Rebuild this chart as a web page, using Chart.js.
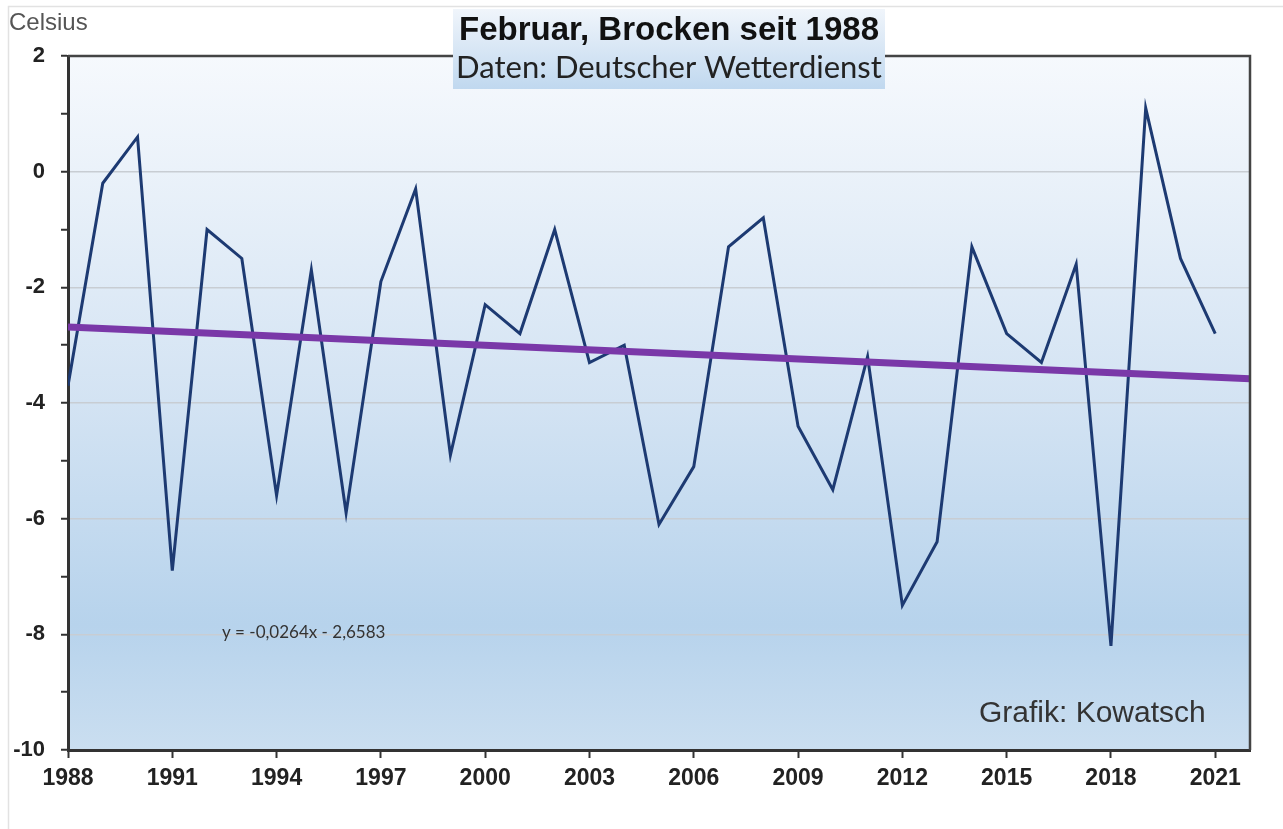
<!DOCTYPE html>
<html>
<head>
<meta charset="utf-8">
<script src="https://cdn.jsdelivr.net/npm/chart.js@4.4.1/dist/chart.umd.min.js"></script>
<style>
  html, body { margin: 0; padding: 0; background: #fff; }
  canvas { display: block; }
</style>
</head>
<body>
<canvas id="grafik" width="1283" height="829"></canvas>
<script>
// Februar-Mitteltemperatur Brocken, Werte
const jahre = [1988, 1989, 1990, 1991, 1992, 1993, 1994, 1995, 1996, 1997, 1998, 1999,
  2000, 2001, 2002, 2003, 2004, 2005, 2006, 2007, 2008, 2009, 2010, 2011,
  2012, 2013, 2014, 2015, 2016, 2017, 2018, 2019, 2020, 2021]
const temperatur = [-3.7, -0.2, 0.6, -6.9, -1.0, -1.5, -5.6, -1.7, -5.9, -1.9, -0.3, -4.9,
  -2.3, -2.8, -1.0, -3.3, -3.0, -6.1, -5.1, -1.3, -0.8, -4.4, -5.5, -3.2,
  -7.5, -6.4, -1.3, -2.8, -3.3, -1.6, -8.2, 1.1, -1.5, -2.8]
const jahrTicks = [1988, 1991, 1994, 1997, 2000, 2003, 2006, 2009, 2012, 2015, 2018, 2021]

// Trendlinie laut Gleichung im Bild (x = 1 fuer 1988)
const trendSteigung = -0.0264
const trendAchse = -2.6583
const trendJahre = [1988, 2022]

const schrift = '"Liberation Sans", Arial, sans-serif'

const punkte = jahre.map((j, i) => ({ x: j, y: temperatur[i] }))
const trendPunkte = trendJahre.map(j => ({ x: j, y: trendSteigung * (j - 1987) + trendAchse }))

const hintergrund = {
  id: 'hintergrund',
  beforeDraw(chart) {
    const { ctx, chartArea: a } = chart
    ctx.save()
    ctx.fillStyle = '#fff'
    ctx.fillRect(0, 0, chart.width, chart.height)
    // duenner Rahmen ums Bild
    ctx.strokeStyle = '#e2e2e2'
    ctx.lineWidth = 1.5
    ctx.beginPath()
    ctx.moveTo(8.5, chart.height)
    ctx.lineTo(8.5, 6.5)
    ctx.lineTo(chart.width, 6.5)
    ctx.stroke()
    const g = ctx.createLinearGradient(0, a.top, 0, a.bottom)
    g.addColorStop(0, '#f6f9fd')
    g.addColorStop(0.5, '#d3e3f3')
    g.addColorStop(0.82, '#b7d3ec')
    g.addColorStop(1, '#cadef0')
    ctx.fillStyle = g
    ctx.fillRect(a.left, a.top, a.right - a.left, a.bottom - a.top)
    ctx.restore()
  },
  afterDraw(chart) {
    const { ctx, chartArea: a } = chart
    ctx.save()
    // oberer und rechter Rand
    ctx.strokeStyle = '#444'
    ctx.lineWidth = 2.5
    ctx.beginPath()
    ctx.moveTo(a.left, a.top)
    ctx.lineTo(a.right, a.top)
    ctx.lineTo(a.right, a.bottom)
    ctx.stroke()

    // Titelkasten
    const tg = ctx.createLinearGradient(0, 9, 0, 89)
    tg.addColorStop(0, '#f0f5fb')
    tg.addColorStop(1, '#c0d8ef')
    ctx.fillStyle = tg
    ctx.fillRect(453, 9, 432, 80)

    ctx.textAlign = 'center'
    ctx.textBaseline = 'alphabetic'
    ctx.fillStyle = '#111'
    ctx.font = 'bold 33px ' + schrift
    ctx.fillText('Februar, Brocken seit 1988', 669, 40)
    ctx.fillStyle = '#222'
    ctx.font = '31px Lato, "Open Sans", sans-serif'
    ctx.fillText('Daten: Deutscher Wetterdienst', 669, 78)

    ctx.textAlign = 'left'
    ctx.fillStyle = '#555'
    ctx.font = '24px ' + schrift
    ctx.fillText('Celsius', 9, 30)

    ctx.fillStyle = '#333'
    ctx.font = '17px Lato, "Open Sans", sans-serif'
    ctx.textBaseline = 'middle'
    ctx.fillText('y = -0,0264x - 2,6583', 222, 633)

    ctx.textBaseline = 'alphabetic'
    ctx.font = '30px ' + schrift
    ctx.fillText('Grafik: Kowatsch', 979, 722)
    ctx.restore()
  }
}

new Chart(document.getElementById('grafik'), {
  type: 'line',
  data: {
    datasets: [{
      label: 'Februar',
      data: punkte,
      borderColor: '#1d3a72',
      borderWidth: 3,
      pointRadius: 0,
      tension: 0,
      order: 1
    }, {
      label: 'Trend',
      data: trendPunkte,
      borderColor: '#7a38a8',
      borderWidth: 7,
      pointRadius: 0,
      tension: 0,
      order: 0
    }]
  },
  options: {
    responsive: false,
    animation: false,
    layout: { padding: { top: 56, right: 33, left: 0, bottom: 0 } },
    plugins: {
      legend: { display: false },
      tooltip: { enabled: false }
    },
    scales: {
      x: {
        type: 'linear',
        min: 1988,
        max: 2022,
        afterBuildTicks(s) { s.ticks = jahrTicks.map(v => ({ value: v })) },
        afterFit(s) { s.height = 79 },
        ticks: {
          autoSkip: false,
          maxRotation: 0,
          padding: 7,
          color: '#222',
          font: { family: schrift, size: 23, weight: 'bold' },
          callback: v => String(v)
        },
        grid: { drawOnChartArea: false, tickColor: '#333', tickLength: 8, tickWidth: 2 },
        border: { color: '#333', width: 3 }
      },
      y: {
        min: -10,
        max: 2,
        afterFit(s) { s.width = 68 },
        ticks: {
          stepSize: 1,
          autoSkip: false,
          padding: 16,
          color: '#222',
          font: { family: schrift, size: 22, weight: 'bold' },
          callback: v => (v % 2 === 0 ? String(v) : '')
        },
        grid: {
          color: c => (c.tick && c.tick.value % 2 === 0 && c.tick.value > -10 && c.tick.value < 2) ? '#c8cdd3' : 'rgba(0,0,0,0)',
          lineWidth: 1.5,
          tickColor: '#333',
          tickLength: 7,
          tickWidth: 2
        },
        border: { color: '#333', width: 3 }
      }
    }
  },
  plugins: [hintergrund]
})
</script>
</body>
</html>
